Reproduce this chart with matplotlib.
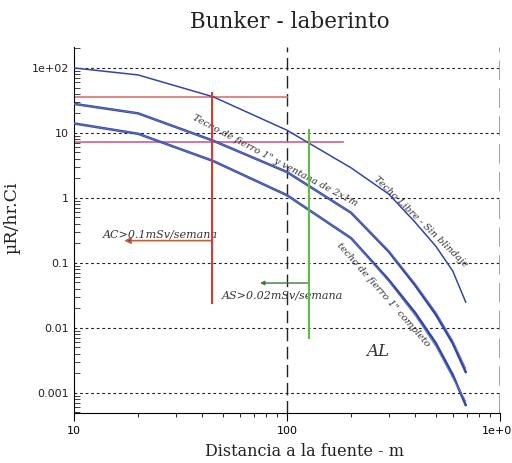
import numpy as np
import matplotlib
matplotlib.use("Agg")
import matplotlib.pyplot as plt
from matplotlib.ticker import FixedLocator, FixedFormatter, LogLocator, NullFormatter

# ---- data ----
dist = [10, 20, 45, 100, 200, 300, 400, 500, 600, 690]
techo_libre = [100, 78, 36, 11, 2.9, 1.15, 0.42, 0.18, 0.075, 0.025]
techo_ventana = [28, 20, 7.6, 2.5, 0.59, 0.15, 0.045, 0.016, 0.0058, 0.0021]
techo_ventana_b = [28, 20, 7.6, 2.5, 0.59, 0.155, 0.048, 0.0175, 0.0064, 0.0024]
techo_completo = [14, 9.7, 3.7, 1.1, 0.24, 0.055, 0.017, 0.0058, 0.0019, 0.00065]
techo_completo_b = [14, 9.7, 3.7, 1.1, 0.24, 0.052, 0.0155, 0.0052, 0.0017, 0.00075]

y_ticks = [0.001, 0.01, 0.1, 1, 10, 100]
y_labels = ["0.001", "0.01", "0.1", "1", "10", "1e+02"]
x_ticks = [10, 100, 1000]
x_labels = ["10", "100", "1e+03"]

# reference lines
ac_level = 36
as_level = 7.3
ac_dist = 44.5
as_dist = 127

fig = plt.figure(figsize=(5.12, 4.63), dpi=100)
ax = fig.add_axes([74/512, 50/463, 426/512, 366/463])
ax.set_xscale("log")
ax.set_yscale("log")
ax.set_xlim(10, 1000)
ax.set_ylim(0.00049, 210)

for sp in ["top", "right"]:
    ax.spines[sp].set_visible(False)

# grid lines
for yv in y_ticks:
    ax.plot([10, 1000], [yv, yv], color="#222222", lw=0.8, ls=(0, (2.5, 2.5)), zorder=1)
ax.axvline(100, color="#222222", lw=1.0, ls=(0, (9, 4)), zorder=1)
ax.axvline(1000, color="#999999", lw=2.0, ls=(0, (7, 3)), zorder=1)

blue = "#3246a8"
ax.plot(dist, techo_libre, color=blue, lw=1.1, zorder=3)
ax.plot(dist, techo_ventana, color=blue, lw=1.8, zorder=3)
ax.plot(dist, techo_ventana_b, color="#6070c0", lw=0.7, zorder=3)
ax.plot(dist, techo_completo, color=blue, lw=1.8, zorder=3)
ax.plot(dist, techo_completo_b, color="#6070c0", lw=0.7, zorder=3)

# limit lines
ax.plot([10, 100], [ac_level, ac_level], color="#e07070", lw=1.2, zorder=2)
ax.plot([10, 183], [as_level, as_level], color="#d0608c", lw=1.2, zorder=2)
ax.plot([ac_dist, ac_dist], [41, 0.024], color="#d83a3a", lw=1.5, zorder=4)
ax.plot([as_dist, as_dist], [11, 0.007], color="#5cbf40", lw=1.5, zorder=4)

# arrows
ax.annotate("", xy=(17.2, 0.22), xytext=(ac_dist, 0.22),
            arrowprops=dict(arrowstyle="-|>", color="#c0603a", lw=1.2,
                            mutation_scale=9, shrinkA=0, shrinkB=0,
                            fc="#3246a8"))
ax.annotate("", xy=(74.7, 0.049), xytext=(as_dist, 0.049),
            arrowprops=dict(arrowstyle="-|>", color="#3f7a3a", lw=1.0,
                            mutation_scale=6, shrinkA=0, shrinkB=0))

tfont = dict(family="DejaVu Serif", style="italic", color="#333333")
ax.text(25.4, 0.27, "AC>0.1mSv/semana", fontsize=8, ha="center", va="center", **tfont)
ax.text(95.7, 0.032, "AS>0.02mSv/semana", fontsize=8, ha="center", va="center", **tfont)
ax.text(267, 0.0043, "AL", fontsize=12, ha="center", va="center", **tfont)

ax.text(88, 3.7, "Techo de fierro 1\" y ventana de 2x1m", fontsize=7, rotation=-28,
        ha="center", va="center", rotation_mode="anchor", **tfont)
ax.text(425, 0.43, "Techo Libre - Sin blindaje", fontsize=7, rotation=-44,
        ha="center", va="center", rotation_mode="anchor", **tfont)
ax.text(282, 0.032, "techo de fierro 1\" completo", fontsize=7, rotation=-48.5,
        ha="center", va="center", rotation_mode="anchor", **tfont)

# ticks
ax.yaxis.set_major_locator(FixedLocator(y_ticks))
ax.yaxis.set_major_formatter(FixedFormatter(y_labels))
ax.yaxis.set_minor_locator(LogLocator(base=10, subs=np.arange(2, 10), numticks=20))
ax.yaxis.set_minor_formatter(NullFormatter())
ax.xaxis.set_major_locator(FixedLocator(x_ticks))
ax.xaxis.set_major_formatter(FixedFormatter(x_labels))
ax.xaxis.set_minor_locator(LogLocator(base=10, subs=np.arange(2, 10), numticks=20))
ax.xaxis.set_minor_formatter(NullFormatter())
ax.tick_params(axis="y", which="both", direction="in", labelsize=8, colors="#222222")
ax.tick_params(axis="y", which="major", length=0)
ax.tick_params(axis="y", which="minor", length=4)
ax.tick_params(axis="x", which="major", direction="out", length=6, labelsize=8)
ax.tick_params(axis="x", which="minor", direction="out", length=3)

ax.set_xlabel("Distancia a la fuente - m", family="DejaVu Serif", fontsize=11.5, color="#222222")
ax.set_ylabel("µR/hr.Ci", family="DejaVu Serif", fontsize=12.5, color="#222222")
ax.xaxis.set_label_coords(0.542, -0.082)
ax.yaxis.set_label_coords(-0.125, 0.533)
fig.text(0.566, 0.952, "Bunker - laberinto", family="DejaVu Serif", fontsize=15.5,
         ha="center", va="center", color="#222222")

fig.savefig("out.png", dpi=100)
